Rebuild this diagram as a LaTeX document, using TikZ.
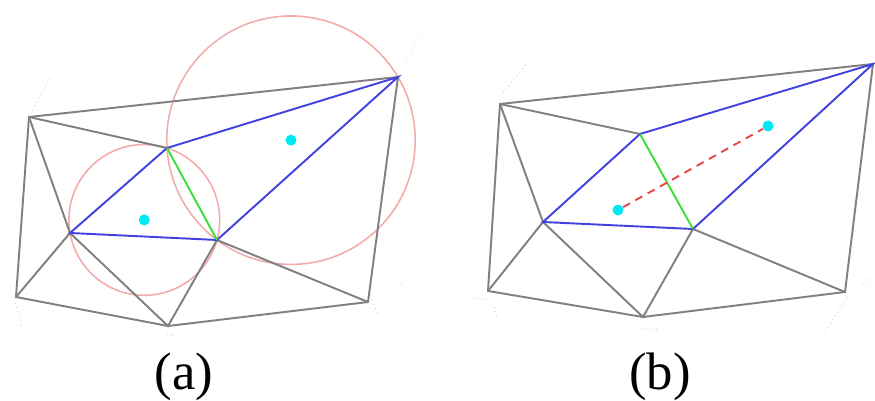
\documentclass[tikz,border=0pt]{standalone}
\usepackage{fontspec}
\setmainfont{Liberation Serif}
\usepackage{tikz}
\usetikzlibrary{positioning}
\definecolor{meshgray}{RGB}{128,128,128}
\definecolor{triblue}{RGB}{66,66,224}
\definecolor{flipgreen}{RGB}{60,222,60}
\definecolor{circpink}{RGB}{242,172,172}
\definecolor{centcyan}{RGB}{0,232,240}
\definecolor{dualred}{RGB}{232,70,70}

\tikzset{
  mesh/.style={meshgray,line width=1.1pt},
  tri/.style={triblue,line width=1.1pt},
  flipedge/.style={flipgreen,line width=1.1pt},
  ccirc/.style={circpink,line width=0.9pt},
  cdot/.style={circle,fill=centcyan,inner sep=0pt,minimum size=0.22cm},
  dual/.style={dualred,line width=1.1pt,dash pattern=on 4.5pt off 3.5pt},
  speck/.style={gray!40,line width=0.5pt,dotted},
  panel/.style={font=\fontsize{30}{36}\selectfont}
}

\begin{document}
\begin{tikzpicture}[x=0.02cm,y=-0.02cm]
  \useasboundingbox (0,0) rectangle (875,401);

  % panel (a): before the flip
  \coordinate (aA) at (29,117);
  \coordinate (aB) at (398,77);
  \coordinate (aC) at (167,148);
  \coordinate (aD) at (70,233);
  \coordinate (aE) at (217,240);
  \coordinate (aF) at (16,297);
  \coordinate (aG) at (168,326);
  \coordinate (aH) at (368,302);
  \coordinate (aO1) at (144.3,219.9);
  \coordinate (aO2) at (291,140.2);

  \draw[ccirc] (aO1) circle[radius=1.508cm];
  \draw[ccirc] (aO2) circle[radius=2.485cm];

  \draw[mesh] (aA) -- (aB) -- (aH) -- (aG) -- (aF) -- cycle;
  \draw[mesh] (aA) -- (aC);
  \draw[mesh] (aA) -- (aD) -- (aF);
  \draw[mesh] (aD) -- (aG) -- (aE) -- (aH);
  \draw[tri] (aD) -- (aC) -- (aB) -- (aE) -- cycle;
  \draw[flipedge] (aC) -- (aE);

  \node[cdot] (ca1) at (aO1) {};
  \node[cdot] (ca2) at (aO2) {};

  \draw[speck] (32,110) -- (51,78);
  \draw[speck] (15,303) -- (23,328);
  \draw[speck] (167,335) -- (180,336);
  \draw[speck] (406,63) -- (420,35);
  \draw[speck] (372,300) -- (378,314);
  \draw[speck] (397,285) -- (405,282);

  \node[panel] (labela) at (184,377) {(a)};

  % panel (b): after the flip
  \coordinate (bA) at (500,104);
  \coordinate (bB) at (873,64);
  \coordinate (bC) at (640,134);
  \coordinate (bD) at (543,222);
  \coordinate (bE) at (693,229);
  \coordinate (bF) at (488,291);
  \coordinate (bG) at (643,317);
  \coordinate (bH) at (845,292);

  \draw[mesh] (bA) -- (bB) -- (bH) -- (bG) -- (bF) -- cycle;
  \draw[mesh] (bA) -- (bC);
  \draw[mesh] (bA) -- (bD) -- (bF);
  \draw[mesh] (bD) -- (bG) -- (bE) -- (bH);
  \draw[tri] (bD) -- (bC) -- (bB) -- (bE) -- cycle;
  \draw[flipedge] (bC) -- (bE);

  \node[cdot] (cb1) at (618,210) {};
  \node[cdot] (cb2) at (768,126) {};
  \draw[dual] (cb1) -- (cb2);

  \draw[speck] (503,93) -- (527,63);
  \draw[speck] (473,298) -- (490,300);
  \draw[speck] (494,307) -- (497,318);
  \draw[speck] (643,328) -- (660,330);
  \draw[speck] (847,297) -- (825,332);
  \draw[speck] (862,285) -- (872,278);

  \node[panel] (labelb) at (660,377) {(b)};
\end{tikzpicture}
\end{document}
